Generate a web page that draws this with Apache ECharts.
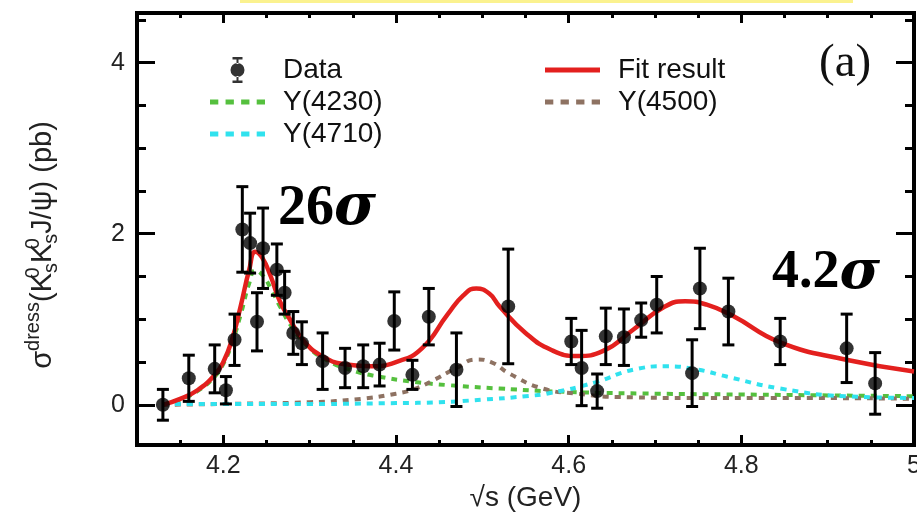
<!DOCTYPE html>
<html>
<head>
<meta charset="utf-8">
<script src="https://cdn.jsdelivr.net/npm/echarts@6/dist/echarts.min.js"></script>
<style>
  html, body { margin: 0; padding: 0; background: #fff; }
  #chart { width: 917px; height: 512px; }
</style>
</head>
<body>
<div id="chart"></div>
<script>
// measured points (sqrt(s) in GeV, sigma in pb, symmetric error)
const dataX = [4.130, 4.160, 4.190, 4.203, 4.213, 4.222, 4.231, 4.239, 4.246, 4.262, 4.271, 4.281, 4.291,
  4.315, 4.341, 4.362, 4.381, 4.398, 4.419, 4.438, 4.470, 4.530, 4.603, 4.615, 4.633, 4.643, 4.664,
  4.684, 4.702, 4.743, 4.752, 4.785, 4.845, 4.922, 4.955];
const dataY = [0.00, 0.31, 0.42, 0.17, 0.76, 2.05, 1.89, 0.97, 1.83, 1.58, 1.31, 0.84, 0.72,
  0.51, 0.43, 0.45, 0.47, 0.98, 0.35, 1.03, 0.41, 1.15, 0.74, 0.43, 0.16, 0.80, 0.79,
  0.99, 1.17, 0.37, 1.36, 1.09, 0.74, 0.66, 0.25];
const dataErr = [0.18, 0.27, 0.28, 0.16, 0.30, 0.50, 0.35, 0.34, 0.47, 0.30, 0.25, 0.25, 0.25,
  0.33, 0.23, 0.25, 0.25, 0.34, 0.17, 0.33, 0.43, 0.67, 0.27, 0.44, 0.20, 0.33, 0.33,
  0.20, 0.33, 0.39, 0.47, 0.39, 0.27, 0.40, 0.36];

// fit curves
const fitX = [4.13, 4.15, 4.17, 4.19, 4.20, 4.21, 4.22, 4.23, 4.237, 4.245, 4.255, 4.265, 4.277, 4.292,
  4.316, 4.343, 4.37, 4.40, 4.43, 4.46, 4.478, 4.493, 4.508, 4.52, 4.55, 4.58, 4.61, 4.64, 4.675,
  4.71, 4.735, 4.76, 4.79, 4.845, 4.92, 5.0];
const fitY = [0.0, 0.07, 0.17, 0.35, 0.5, 0.76, 1.15, 1.58, 1.79, 1.72, 1.50, 1.22, 1.0, 0.76,
  0.56, 0.47, 0.45, 0.5, 0.66, 1.06, 1.28, 1.36, 1.30, 1.15, 0.84, 0.64, 0.57, 0.63, 0.88,
  1.14, 1.21, 1.17, 1.04, 0.73, 0.53, 0.39];

const y4230X = [4.13, 4.15, 4.17, 4.19, 4.20, 4.21, 4.22, 4.23, 4.237, 4.245, 4.255, 4.265, 4.28, 4.30,
  4.32, 4.35, 4.38, 4.42, 4.46, 4.52, 4.60, 4.70, 4.80, 4.90, 5.0];
const y4230Y = [0, 0.06, 0.16, 0.33, 0.48, 0.72, 1.05, 1.42, 1.57, 1.52, 1.36, 1.16, 0.9, 0.66,
  0.52, 0.40, 0.33, 0.27, 0.23, 0.19, 0.15, 0.13, 0.12, 0.11, 0.10];

const y4500X = [4.13, 4.20, 4.30, 4.36, 4.40, 4.42, 4.44, 4.47, 4.493, 4.51, 4.532, 4.57, 4.61, 4.66,
  4.75, 4.85, 5.0];
const y4500Y = [0, 0.01, 0.03, 0.07, 0.13, 0.18, 0.27, 0.43, 0.53, 0.5, 0.36, 0.19, 0.13, 0.09,
  0.08, 0.08, 0.07];

const y4710X = [4.13, 4.20, 4.30, 4.40, 4.45, 4.50, 4.55, 4.58, 4.63, 4.675, 4.713, 4.75, 4.783,
  4.845, 4.92, 5.0];
const y4710Y = [0.01, 0.01, 0.01, 0.02, 0.03, 0.06, 0.1, 0.14, 0.26, 0.41, 0.45, 0.41, 0.33,
  0.19, 0.10, 0.08];

const xMajor = [4.2, 4.4, 4.6, 4.8, 5.0];
const xMinor = [4.15, 4.25, 4.3, 4.35, 4.45, 4.5, 4.55, 4.65, 4.7, 4.75, 4.85, 4.9, 4.95];
const yMajor = [0, 2, 4];
const yMinor = [0.5, 1, 1.5, 2.5, 3, 3.5, 4.5];

const zip = (a, b) => a.map((v, i) => [v, b[i]]);
const FONT = 'Liberation Sans';

var myChart = echarts.init(document.getElementById('chart'));

function xAx(pos, ticks, len, labels) {
  return {
    type: 'value', position: pos, min: 4.1, max: 5.0,
    axisLine: { show: false, onZero: false },
    splitLine: { show: false },
    axisTick: { show: true, inside: true, length: len, customValues: ticks,
      lineStyle: { color: '#000', width: 3 } },
    axisLabel: labels ? {
      show: true, customValues: xMajor, margin: 9, fontSize: 25, color: '#222', fontFamily: FONT,
      formatter: v => (Math.abs(v - 5) < 1e-6 ? '5' : v.toFixed(1))
    } : { show: false }
  };
}
function yAx(pos, ticks, len, labels) {
  return {
    type: 'value', position: pos, min: -0.47, max: 4.58,
    axisLine: { show: false, onZero: false },
    splitLine: { show: false },
    axisTick: { show: true, inside: true, length: len, customValues: ticks,
      lineStyle: { color: '#000', width: 3 } },
    axisLabel: labels ? {
      show: true, customValues: yMajor, margin: 12, fontSize: 25, color: '#222', fontFamily: FONT
    } : { show: false }
  };
}

const xAxes = [xAx('bottom', xMajor, 10, true), xAx('bottom', xMinor, 5), xAx('top', xMajor, 10), xAx('top', xMinor, 5)];
xAxes[0].name = '√s (GeV)';
xAxes[0].nameLocation = 'middle';
xAxes[0].nameGap = 32;
xAxes[0].nameTextStyle = { fontSize: 28, color: '#222', fontFamily: FONT };

const yAxes = [yAx('left', yMajor, 18, true), yAx('left', yMinor, 9), yAx('right', yMajor, 18), yAx('right', yMinor, 9)];
yAxes[0].name = '{t|σ}{sup|dress}{t|(K}{st|0}{sub|s}{t|K}{st|0}{sub|s}{t|J/ψ) (pb)}';
yAxes[0].nameLocation = 'middle';
yAxes[0].nameRotate = 90;
yAxes[0].nameGap = 74;
yAxes[0].nameTextStyle = {
  color: '#222', fontFamily: FONT, fontSize: 29, padding: [0, 32, 0, 0],
  rich: {
    t: { fontSize: 29, fontFamily: FONT, color: '#222' },
    sup: { fontSize: 20, fontFamily: FONT, color: '#222', padding: [0, 0, 20, 0] },
    st: { fontSize: 20, fontFamily: FONT, color: '#222', width: 0, padding: [0, 0, 20, 0] },
    sub: { fontSize: 20, fontFamily: FONT, color: '#222', padding: [16, 0, 0, 0] }
  }
};

const dottedLine = (name, xs, ys, color) => ({
  name: name, type: 'line', data: zip(xs, ys), smooth: true, showSymbol: false, symbol: 'none',
  xAxisIndex: 0, yAxisIndex: 0, z: 2,
  lineStyle: { color: color, width: 4, type: [6, 6], cap: 'butt' },
  itemStyle: { color: color }
});

const dataIcon = 'path://M2,0H12V2.5H2Z M6,2H8V7H6Z M0,13A7,7 0 1,0 14,13A7,7 0 1,0 0,13Z M6,19H8V24H6Z M2,23.5H12V26H2Z';
const dotIcon = 'path://M0,0H8V5H0Z M15,0H23V5H15Z M30,0H38V5H30Z M45,0H53V5H45Z';
const solidIcon = 'path://M0,0H53V5H0Z';

const legendText = { fontSize: 28, color: '#111', fontFamily: FONT, padding: [0, 0, 0, 13] };

const option = {
  animation: false,
  backgroundColor: '#fff',
  grid: { left: 137, right: 3, top: 13, bottom: 67, show: true, borderColor: '#000', borderWidth: 4,
    containLabel: false, outerBoundsMode: 'none' },
  xAxis: xAxes,
  yAxis: yAxes,
  legend: [
    {
      left: 205, top: 51, orient: 'vertical', itemWidth: 55, itemHeight: 26, itemGap: 4,
      selectedMode: false, textStyle: legendText,
      data: [{ name: 'Data', icon: dataIcon }, { name: 'Y(4230)', icon: dotIcon }, { name: 'Y(4710)', icon: dotIcon }]
    },
    {
      left: 540, top: 51, orient: 'vertical', itemWidth: 55, itemHeight: 26, itemGap: 4,
      selectedMode: false, textStyle: legendText,
      data: [{ name: 'Fit result', icon: solidIcon }, { name: 'Y(4500)', icon: dotIcon }]
    }
  ],
  graphic: [
    { type: 'rect', shape: { x: 240, y: 0, width: 613, height: 3 }, style: { fill: '#fbf28f' } },
    { type: 'text', left: 819, top: 40,
      style: { text: '(a)', font: '47px "Liberation Serif"', fill: '#111' } },
    { type: 'text', left: 278, top: 181, z: 100,
      style: { text: '{n|26}{s|σ}', rich: {
        n: { font: 'bold 56px "Liberation Serif"', fill: '#000' },
        s: { font: 'italic bold 57px "DejaVu Serif"', fill: '#000' } } } },
    { type: 'text', left: 772, top: 246, z: 100,
      style: { text: '{n|4.2}{s|σ}', rich: {
        n: { font: 'bold 54px "Liberation Serif"', fill: '#000' },
        s: { font: 'italic bold 55px "DejaVu Serif"', fill: '#000' } } } }
  ],
  series: [
    dottedLine('Y(4230)', y4230X, y4230Y, '#55c03e'),
    dottedLine('Y(4500)', y4500X, y4500Y, '#8e7262'),
    dottedLine('Y(4710)', y4710X, y4710Y, '#30e2ee'),
    {
      name: 'Fit result', type: 'line', data: zip(fitX, fitY), smooth: true, showSymbol: false,
      symbol: 'none', z: 3,
      lineStyle: { color: '#e3201e', width: 4.5 },
      itemStyle: { color: '#e3201e' }
    },
    {
      name: 'errors', type: 'custom', z: 4,
      data: dataX.map((x, i) => [x, dataY[i], dataErr[i]]),
      encode: { x: 0, y: 1 },
      renderItem: function (params, api) {
        const x = api.value(0), y = api.value(1), e = api.value(2);
        const top = api.coord([x, y + e]);
        const bot = api.coord([x, y - e]);
        const hw = 6;
        const st = { stroke: '#000', lineWidth: 3 };
        return {
          type: 'group',
          children: [
            { type: 'line', shape: { x1: top[0], y1: top[1], x2: bot[0], y2: bot[1] }, style: st },
            { type: 'line', shape: { x1: top[0] - hw, y1: top[1], x2: top[0] + hw, y2: top[1] }, style: st },
            { type: 'line', shape: { x1: bot[0] - hw, y1: bot[1], x2: bot[0] + hw, y2: bot[1] }, style: st }
          ]
        };
      }
    },
    {
      name: 'Data', type: 'scatter', z: 5,
      data: zip(dataX, dataY),
      symbol: 'circle', symbolSize: 14,
      itemStyle: { color: '#000' }
    }
  ]
};

myChart.setOption(option);
</script>
</body>
</html>
